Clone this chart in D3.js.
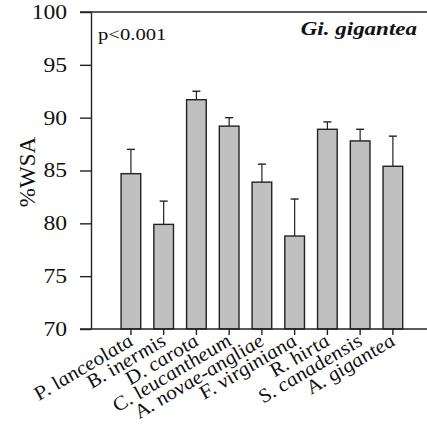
<!DOCTYPE html>
<html>
<head>
<meta charset="utf-8">
<script src="https://cdn.jsdelivr.net/npm/d3@7"></script>
<style>
  body { margin: 0; background: #fff; }
</style>
</head>
<body>
<svg id="plot"></svg>
<script>
// Data
const species = ["P. lanceolata", "B. inermis", "D. carota", "C. leucantheum",
                 "A. novae-angliae", "F. virginiana", "R. hirta", "S. canadensis", "A. gigantea"];
const means = [84.7, 79.9, 91.7, 89.2, 83.9, 78.8, 88.9, 87.8, 85.4];
const upper = [87.0, 82.1, 92.5, 90.0, 85.6, 82.3, 89.6, 88.9, 88.25];
const yTicks = [70, 75, 80, 85, 90, 95, 100];

const W = 427, H = 428;
const plotLeft = 91, plotTop = 12, plotBottom = 329;
const serif = "'Liberation Serif', 'Times New Roman', serif";
const sx = 1.18; // the original figure is stretched a little horizontally

const svg = d3.select("#plot")
    .attr("width", W)
    .attr("height", H)
    .style("font-family", serif);

const x = d3.scaleBand()
    .domain(species)
    .range([108, 108 + 9 * 34.2])
    .padding(0.4);

const y = d3.scaleLinear()
    .domain([70, 100])
    .range([plotBottom, plotTop]);

// y axis
const yAxis = svg.append("g")
    .attr("transform", "translate(" + plotLeft + ",0)")
    .call(d3.axisLeft(y).tickValues(yTicks).tickSize(11).tickPadding(13).tickSizeOuter(0));
yAxis.attr("font-family", null);
yAxis.select(".domain").attr("stroke", "#222").attr("stroke-width", 1.4);
yAxis.selectAll(".tick line").attr("stroke", "#222").attr("stroke-width", 1.4);
yAxis.selectAll(".tick text")
    .style("font-family", serif)
    .style("font-size", "20px")
    .attr("fill", "#111")
    .attr("x", -24 / sx)
    .attr("transform", "scale(" + sx + ",1)");

// top frame line
svg.append("line")
    .attr("x1", plotLeft - 11).attr("x2", W)
    .attr("y1", y(100)).attr("y2", y(100))
    .attr("stroke", "#222").attr("stroke-width", 1.4);

// bars
svg.selectAll(".bar")
    .data(species)
  .enter().append("rect")
    .attr("class", "bar")
    .attr("x", d => x(d))
    .attr("width", x.bandwidth())
    .attr("y", (d, i) => y(means[i]))
    .attr("height", (d, i) => y(70) - y(means[i]))
    .attr("fill", "#c0c0c0")
    .attr("stroke", "#222")
    .attr("stroke-width", 1.4);

// error bars
const err = svg.selectAll(".err")
    .data(species)
  .enter().append("g")
    .attr("class", "err");
err.append("line")
    .attr("x1", d => x(d) + x.bandwidth() / 2)
    .attr("x2", d => x(d) + x.bandwidth() / 2)
    .attr("y1", (d, i) => y(means[i]))
    .attr("y2", (d, i) => y(upper[i]))
    .attr("stroke", "#222").attr("stroke-width", 1.2);
err.append("line")
    .attr("x1", d => x(d) + x.bandwidth() / 2 - 4)
    .attr("x2", d => x(d) + x.bandwidth() / 2 + 4)
    .attr("y1", (d, i) => y(upper[i]))
    .attr("y2", (d, i) => y(upper[i]))
    .attr("stroke", "#222").attr("stroke-width", 1.4);

// x axis
const xAxis = svg.append("g")
    .attr("transform", "translate(0," + plotBottom + ")")
    .call(d3.axisBottom(x).tickSize(6).tickSizeOuter(0));
xAxis.attr("font-family", null);
xAxis.select(".domain").remove();
xAxis.selectAll(".tick line").attr("stroke", "#222").attr("stroke-width", 1.4);
xAxis.selectAll(".tick text")
    .style("font-family", serif)
    .style("font-size", "19px")
    .style("font-style", "italic")
    .attr("fill", "#111")
    .attr("text-anchor", "end")
    .attr("x", 0).attr("y", 0)
    .attr("dy", 0)
    .attr("transform", "translate(4,15) scale(" + sx + ",1) rotate(-35)");
svg.append("line")
    .attr("x1", plotLeft - 11).attr("x2", W)
    .attr("y1", plotBottom).attr("y2", plotBottom)
    .attr("stroke", "#222").attr("stroke-width", 1.4);

// y label
svg.append("text")
    .attr("transform", "translate(35,172) rotate(-90)")
    .attr("text-anchor", "middle")
    .style("font-family", serif)
    .style("font-size", "23px")
    .attr("fill", "#111")
    .text("%WSA");

// annotations
svg.append("text")
    .attr("transform", "translate(98,40) scale(" + sx + ",1)")
    .style("font-family", serif)
    .style("font-size", "17.5px")
    .attr("fill", "#111")
    .text("p<0.001");
svg.append("text")
    .attr("transform", "translate(417,35) scale(" + sx + ",1)")
    .attr("text-anchor", "end")
    .style("font-family", serif)
    .style("font-size", "19.5px")
    .style("font-style", "italic")
    .style("font-weight", "bold")
    .attr("fill", "#111")
    .text("Gi. gigantea");
</script>
</body>
</html>
